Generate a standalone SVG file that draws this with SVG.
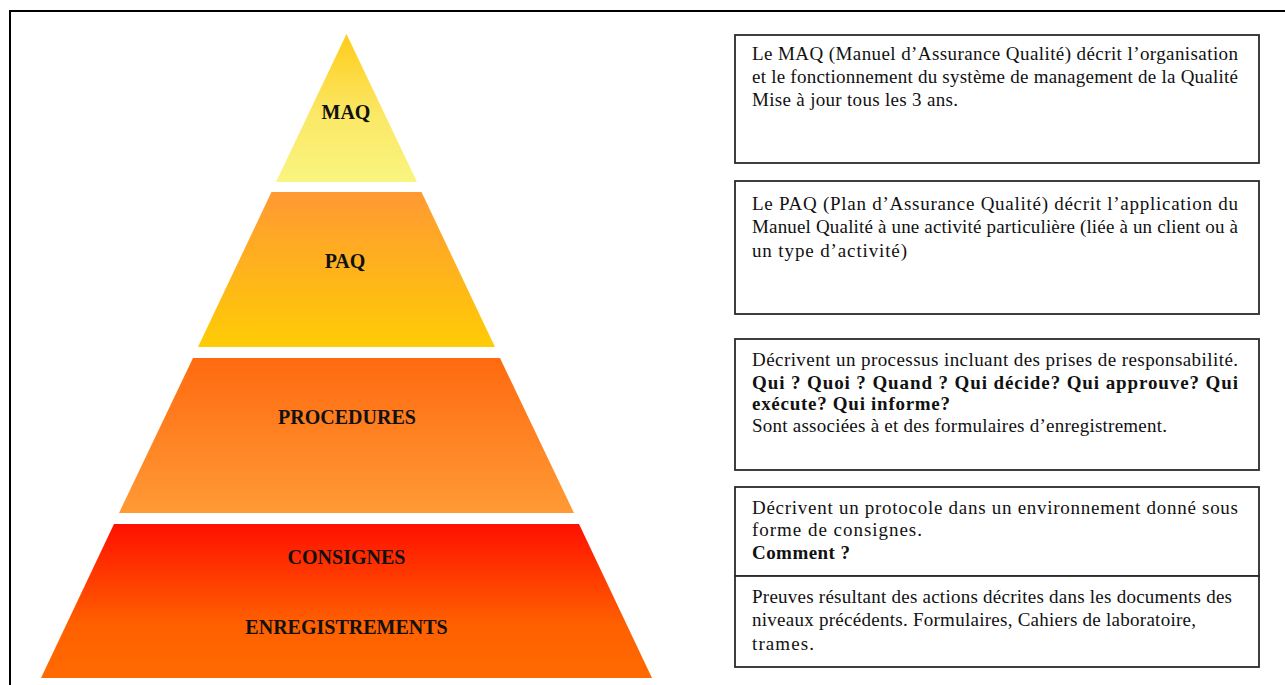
<svg xmlns="http://www.w3.org/2000/svg" width="1285" height="685" viewBox="0 0 1285 685">
<style>
.lbl{font-family:"Liberation Serif","Times New Roman",serif;font-weight:bold;font-size:20px;fill:#111;text-anchor:middle}
.t{font-family:"Liberation Serif","Times New Roman",serif;font-size:19px;fill:#111}
.b{font-weight:bold}
.box{fill:#fff;stroke:#2a2a2a;stroke-width:1.8}
</style>
<defs>
<linearGradient id="gMAQ" x1="0" y1="0" x2="0" y2="1"><stop offset="0" stop-color="#FFCC1A"/><stop offset="0.55" stop-color="#FBE866"/><stop offset="1" stop-color="#F9F580"/></linearGradient>
<linearGradient id="gPAQ" x1="0" y1="0" x2="0" y2="1"><stop offset="0" stop-color="#FF9933"/><stop offset="1" stop-color="#FFCC05"/></linearGradient>
<linearGradient id="gPRO" x1="0" y1="0" x2="0" y2="1"><stop offset="0" stop-color="#FF6A10"/><stop offset="1" stop-color="#FF9A35"/></linearGradient>
<linearGradient id="gCON" x1="0" y1="0" x2="0" y2="1"><stop offset="0" stop-color="#FF1000"/><stop offset="0.65" stop-color="#FF6000"/><stop offset="1" stop-color="#FF6A00"/></linearGradient>
</defs>
<rect width="1285" height="685" fill="#fff"/>
<path d="M10,685 V11 H1285" fill="none" stroke="#000" stroke-width="2"/>

<g id="level-maq">
<polygon points="346.5,34 276,182 417,182" fill="url(#gMAQ)"/>
<text class="lbl" x="346" y="119">MAQ</text>
</g>
<g id="level-paq">
<polygon points="271.5,192 421.5,192 495,347 198,347" fill="url(#gPAQ)"/>
<text class="lbl" x="345" y="268">PAQ</text>
</g>
<g id="level-procedures">
<polygon points="193,358 500,358 574,513 119,513" fill="url(#gPRO)"/>
<text class="lbl" x="347" y="424">PROCEDURES</text>
</g>
<g id="level-consignes">
<polygon points="114,524 579,524 652,678 41,678" fill="url(#gCON)"/>
<text class="lbl" x="346.5" y="564">CONSIGNES</text>
<text class="lbl" x="346.5" y="634">ENREGISTREMENTS</text>
</g>

<g id="box-maq">
<rect class="box" x="735" y="35" width="524" height="128"/>
<text class="t" x="752" y="60" textLength="486" lengthAdjust="spacing">Le MAQ (Manuel d’Assurance Qualité) décrit l’organisation</text>
<text class="t" x="752" y="83" textLength="486" lengthAdjust="spacing">et le fonctionnement du système de management de la Qualité</text>
<text class="t" x="752" y="106" textLength="206" lengthAdjust="spacing">Mise à jour tous les 3 ans.</text>
</g>
<g id="box-paq">
<rect class="box" x="735" y="181" width="524" height="133"/>
<text class="t" x="752" y="210" textLength="486" lengthAdjust="spacing">Le PAQ (Plan d’Assurance Qualité) décrit l’application du</text>
<text class="t" x="752" y="233" textLength="486" lengthAdjust="spacing">Manuel Qualité à une activité particulière (liée à un client ou à</text>
<text class="t" x="752" y="257" textLength="155" lengthAdjust="spacing">un type d’activité)</text>
</g>
<g id="box-procedures">
<rect class="box" x="735" y="339" width="524" height="131"/>
<text class="t" x="752" y="366" textLength="486" lengthAdjust="spacing">Décrivent un processus incluant des prises de responsabilité.</text>
<text class="t b" x="752" y="389" textLength="486" lengthAdjust="spacing">Qui ?  Quoi ?  Quand ?  Qui décide? Qui approuve? Qui</text>
<text class="t b" x="752" y="410" textLength="198" lengthAdjust="spacing">exécute? Qui informe?</text>
<text class="t" x="752" y="432" textLength="415" lengthAdjust="spacing">Sont associées à et des formulaires d’enregistrement.</text>
</g>
<g id="box-consignes">
<rect class="box" x="735" y="487" width="524" height="89"/>
<text class="t" x="752" y="514" textLength="486" lengthAdjust="spacing">Décrivent un protocole dans un environnement donné sous</text>
<text class="t" x="752" y="536" textLength="170" lengthAdjust="spacing">forme de consignes.</text>
<text class="t b" x="752" y="559" textLength="98" lengthAdjust="spacing">Comment ?</text>
</g>
<g id="box-enregistrements">
<rect class="box" x="735" y="576" width="524" height="91"/>
<text class="t" x="752" y="603" textLength="480" lengthAdjust="spacing">Preuves résultant des actions décrites dans les documents des</text>
<text class="t" x="752" y="626" textLength="444" lengthAdjust="spacing">niveaux précédents. Formulaires, Cahiers de laboratoire,</text>
<text class="t" x="752" y="650" textLength="62" lengthAdjust="spacing">trames.</text>
</g>
<g id="connectors"/>
</svg>
